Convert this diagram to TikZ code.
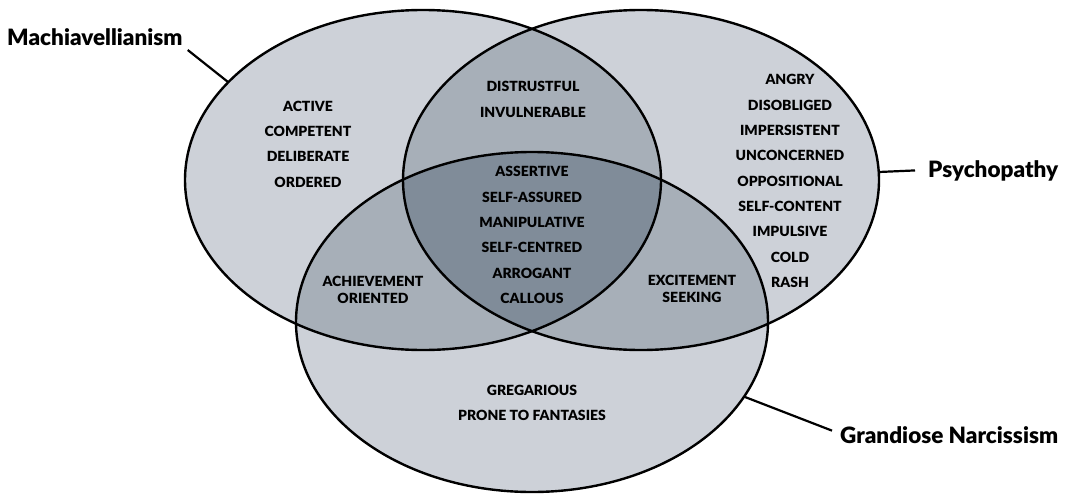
\documentclass[tikz,border=0pt]{standalone}
\usepackage{fontspec}
\setmainfont{Lato}[BoldFont={Lato Black}]
\begin{document}
\begin{tikzpicture}[x=1pt,y=-1pt,
  word/.style={font=\bfseries\fontsize{14}{25.3}\selectfont, align=center, inner sep=0pt, text=black},
  pairword/.style={font=\bfseries\fontsize{14}{16.5}\selectfont, align=center, inner sep=0pt, text=black},
  title/.style={font=\bfseries\fontsize{22.5}{22.5}\selectfont, inner sep=0pt},
  outline/.style={line width=2.4pt, black},
  link/.style={line width=2.2pt, black}]
\definecolor{single}{HTML}{CDD1D8}
\definecolor{pair}{HTML}{A7AFB8}
\definecolor{triple}{HTML}{808C99}
\useasboundingbox (0,0) rectangle (1070,495);
\def\ellM{(423,180) ellipse [x radius=238pt, y radius=170pt]}
\def\ellP{(641,180) ellipse [x radius=238pt, y radius=170pt]}
\def\ellN{(532,322) ellipse [x radius=236pt, y radius=170pt]}
% single fills
\fill[single] \ellM;
\fill[single] \ellP;
\fill[single] \ellN;
% pairwise
\begin{scope}\clip \ellM; \fill[pair] \ellP; \end{scope}
\begin{scope}\clip \ellM; \fill[pair] \ellN; \end{scope}
\begin{scope}\clip \ellP; \fill[pair] \ellN; \end{scope}
% triple
\begin{scope}\clip \ellM; \clip \ellP; \fill[triple] \ellN; \end{scope}
% outlines
\draw[outline] \ellM;
\draw[outline] \ellP;
\draw[outline] \ellN;
% region texts
\node[word] (mOnly) at (308,144) {ACTIVE\\COMPETENT\\DELIBERATE\\ORDERED};
\node[word] (mp) at (533,99.5) {DISTRUSTFUL\\INVULNERABLE};
\node[word] (mpn) at (532,235) {ASSERTIVE\\SELF-ASSURED\\MANIPULATIVE\\SELF-CENTRED\\ARROGANT\\CALLOUS};
\node[word] (pOnly) at (790,181) {ANGRY\\DISOBLIGED\\IMPERSISTENT\\UNCONCERNED\\OPPOSITIONAL\\SELF-CONTENT\\IMPULSIVE\\COLD\\RASH};
\node[pairword] (mn) at (373,290) {ACHIEVEMENT\\ORIENTED};
\node[pairword] (pn) at (692,289) {EXCITEMENT\\SEEKING};
\node[word] (nOnly) at (532,403) {GREGARIOUS\\PRONE TO FANTASIES};
% titles
\node[title, anchor=base west] (mach) at (7,46) {Machiavellianism};
\node[title, anchor=base west] (psy) at (928,177) {Psychopathy};
\node[title, anchor=base west] (gn) at (840,443) {Grandiose Narcissism};
% contact points on ellipses
\coordinate (mC) at (228,82);
\coordinate (pC) at (879,172);
\coordinate (nC) at (745,397);
\draw[link] ([shift={(5,4)}]mach.base east) -- (mC);
\draw[link] (pC) -- ([xshift=-13pt]psy.west);
\draw[link] (nC) -- ([shift={(-8,-4)}]gn.west);
\end{tikzpicture}
\end{document}
